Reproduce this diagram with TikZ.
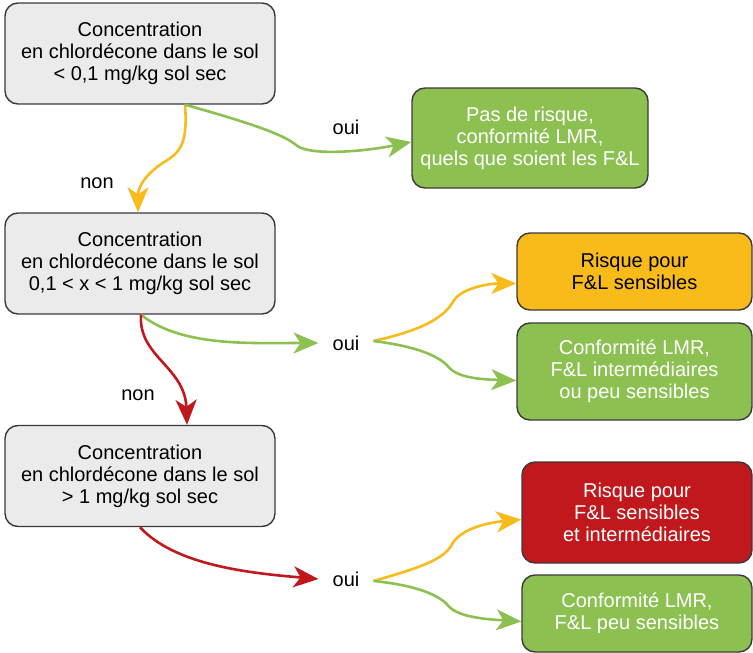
\documentclass[tikz,border=0pt]{standalone}
\usepackage{fontspec}
\setmainfont{Liberation Sans}
\usetikzlibrary{arrows.meta,calc}
\definecolor{boxgray}{HTML}{EBEBEB}
\definecolor{edgegray}{HTML}{3A3A3A}
\definecolor{okgreen}{HTML}{8CC152}
\definecolor{warnyellow}{HTML}{F8BB1A}
\definecolor{riskred}{HTML}{C0181C}
\tikzset{
  box/.style={draw=edgegray, line width=1.4pt, rounded corners=13pt, align=center,
    inner sep=0pt, font=\fontsize{20}{22}\selectfont},
  query/.style={box, fill=boxgray, text=black, minimum width=270pt, minimum height=101pt},
  okbox/.style={box, fill=okgreen, text=white},
  yellowbox/.style={box, fill=warnyellow, text=black},
  redbox/.style={box, fill=riskred, text=white},
  answer/.style={font=\fontsize{20}{22}\selectfont, inner xsep=14pt, inner ysep=0pt},
  flow/.style={line width=2.6pt, -{Stealth[length=25pt,width=21pt,inset=7pt]}},
}
\begin{document}
\begin{tikzpicture}[x=1pt,y=-1pt]
\useasboundingbox (0,0) rectangle (753,653);

% decision boxes
\node[query] (A1) at (140,53.5) {Concentration\\en chlordécone dans le sol\\< 0,1 mg/kg sol sec};
\node[query] (A2) at (140,263.5) {Concentration\\en chlordécone dans le sol\\0,1 < x < 1 mg/kg sol sec};
\node[query] (A3) at (140,476) {Concentration\\en chlordécone dans le sol\\> 1 mg/kg sol sec};

% outcome boxes
\node[okbox, minimum width=236pt, minimum height=100pt] (G1) at (530,138) {Pas de risque,\\conformité LMR,\\quels que soient les F\&L};
\node[yellowbox, minimum width=235pt, minimum height=77pt] (Y1) at (634.5,271.5) {Risque pour\\F\&L sensibles};
\node[okbox, minimum width=235pt, minimum height=97pt] (G2) at (634.5,371.5) {Conformité LMR,\\F\&L intermédiaires\\ou peu sensibles};
\node[redbox, minimum width=230pt, minimum height=101pt] (R) at (637,512.5) {Risque pour\\F\&L sensibles\\et intermédiaires};
\node[okbox, minimum width=230pt, minimum height=77pt] (G3) at (637,613.5) {Conformité LMR,\\F\&L peu sensibles};

% branch labels
\node[answer] (o1) at (346,127) {oui};
\node[answer] (n1) at (97,183) {non};
\node[answer] (o2) at (346,343) {oui};
\node[answer] (n2) at (138,395) {non};
\node[answer] (o3) at (346,579) {oui};

% connector end points
\coordinate (a1out) at ($(A1.south)+(45,0)$);
\coordinate (a2out) at ($(A2.south)+(1,0)$);
\coordinate (g1in) at ($(G1.west)+(0,4)$);
\coordinate (y1in) at ($(Y1.west)+(0,12)$);
\coordinate (g2in) at ($(G2.west)+(0,9)$);
\coordinate (rin) at ($(R.west)+(0,7)$);
\coordinate (g3in) at ($(G3.west)+(0,8)$);
\coordinate (a2in) at ($(A2.north)+(-2,0)$);
\coordinate (a3in) at ($(A3.north)+(47,0)$);

% first level
\draw[flow, warnyellow] (a1out) .. controls ($(a1out)+(3,40)$) and ($(a1out)+(-5,48)$) .. ($(a1out)+(-22,58)$)
  .. controls ($(a1out)+(-40,70)$) and ($(a2in)+(0,-25)$) .. (a2in);
\draw[flow, okgreen] (a1out) .. controls ($(a1out)+(75,21)$) and ($(a1out)+(100,31)$) .. ($(a1out)+(112,41)$)
  .. controls ($(a1out)+(125,51)$) and ($(g1in)+(-50,10)$) .. (g1in);

% second level
\draw[flow, okgreen] (a2out) .. controls ($(a2out)+(40,32)$) and ($(o2.west)+(-70,0)$) .. (o2.west);
\draw[flow, riskred] (a2out) .. controls ($(a2out)+(-3,42)$) and ($(a3in)+(-2,-58)$) .. (a3in);
\draw[flow, warnyellow] ($(o2.east)+(0,-2)$) .. controls ($(o2.east)+(45,-12)$) and ($(o2.east)+(70,-24)$) .. ($(o2.east)+(80,-42)$)
  .. controls ($(o2.east)+(87,-54)$) and ($(y1in)+(-30,0)$) .. (y1in);
\draw[flow, okgreen] ($(o2.east)+(0,-2)$) .. controls ($(o2.east)+(40,3)$) and ($(o2.east)+(65,12)$) .. ($(o2.east)+(75,24)$)
  .. controls ($(o2.east)+(85,36)$) and ($(g2in)+(-30,-1)$) .. (g2in);

% third level
\draw[flow, riskred] (A3.south) .. controls ($(A3.south)+(35,38)$) and ($(o3.west)+(-70,-6)$) .. (o3.west);
\draw[flow, warnyellow] ($(o3.east)+(0,2)$) .. controls ($(o3.east)+(45,-11)$) and ($(o3.east)+(70,-19)$) .. ($(o3.east)+(78,-34)$)
  .. controls ($(o3.east)+(87,-51)$) and ($(rin)+(-32,3)$) .. (rin);
\draw[flow, okgreen] ($(o3.east)+(0,2)$) .. controls ($(o3.east)+(40,6)$) and ($(o3.east)+(65,15)$) .. ($(o3.east)+(75,27)$)
  .. controls ($(o3.east)+(85,39)$) and ($(g3in)+(-30,-2)$) .. (g3in);
\end{tikzpicture}
\end{document}
